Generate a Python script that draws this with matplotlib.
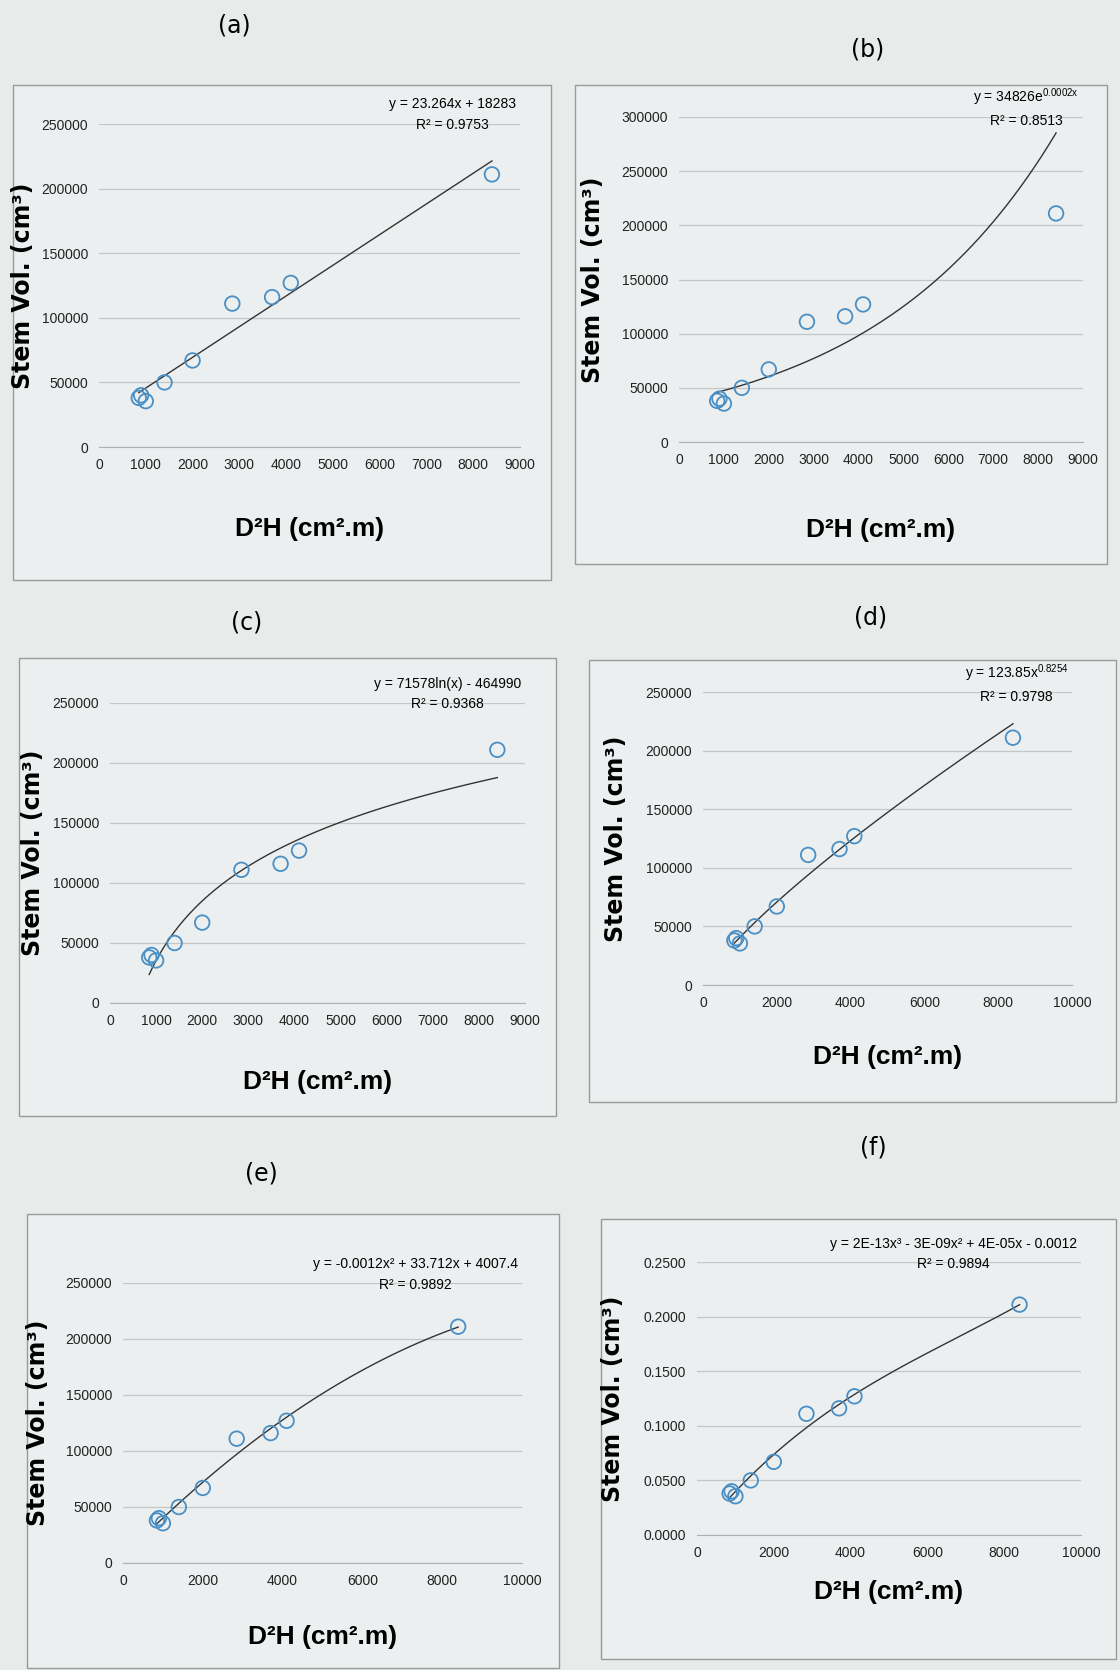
import numpy as np
import matplotlib
matplotlib.use("Agg")
import matplotlib.pyplot as plt
from matplotlib.patches import Rectangle
from matplotlib.ticker import FuncFormatter

# measured data (same sample set in every panel)
dh = [850, 900, 1000, 1400, 2000, 2850, 3700, 4100, 8400]
vol = [38000, 40000, 35500, 50000, 67000, 111000, 116000, 127000, 211000]
vol_m3 = [v / 1e6 for v in vol]

labels = ["(a)", "(b)", "(c)", "(d)", "(e)", "(f)"]
equations = [
    "y = 23.264x + 18283\nR² = 0.9753",
    "y = 34826e$^{0.0002x}$\nR² = 0.8513",
    "y = 71578ln(x) - 464990\nR² = 0.9368",
    "y = 123.85x$^{0.8254}$\nR² = 0.9798",
    "y = -0.0012x² + 33.712x + 4007.4\nR² = 0.9892",
    "y = 2E-13x³ - 3E-09x² + 4E-05x - 0.0012\nR² = 0.9894",
]
fit_kind = ["lin", "exp", "log", "pow", "quad", "cubic"]
xmax = [9000, 9000, 9000, 10000, 10000, 10000]
xstep = [1000, 1000, 1000, 2000, 2000, 2000]
ymax = [250000, 300000, 250000, 250000, 250000, 0.25]
ystep = [50000, 50000, 50000, 50000, 50000, 0.05]

W, H = 1120, 1670
bg = "#e7ebea"
plt.rcParams["font.family"] = ["Liberation Sans", "DejaVu Sans"]
plt.rcParams["mathtext.fontset"] = "custom"
plt.rcParams["mathtext.rm"] = "Liberation Sans"
plt.rcParams["mathtext.it"] = "Liberation Sans"

fig = plt.figure(figsize=(W / 100, H / 100), dpi=100, facecolor=bg)

# pixel layout: box (x0, y0, x1, y1), axes (x0, y0, x1, y1), label position
boxes = [(13, 85, 551, 580), (575, 85, 1107, 564), (19, 658, 556, 1116),
         (589, 660, 1116, 1102), (27, 1214, 559, 1668), (601, 1219, 1116, 1659)]
axes_px = [(99, 124, 520, 447), (679, 117, 1083, 442), (110, 703, 525, 1003),
           (703, 692, 1072, 985), (123, 1283, 522, 1563), (697, 1262, 1081, 1535)]
label_pos = [(234, 25), (868, 50), (247, 622), (871, 617), (261, 1173), (873, 1147)]
ylab_x = [35, 605, 45, 628, 50, 625]
xlab_y = [517, 518, 1070, 1045, 1625, 1580]


def fit_curve(kind, x, y):
    x = np.asarray(x, float)
    y = np.asarray(y, float)
    xs = np.linspace(x.min(), x.max(), 200)
    if kind == "lin":
        return xs, np.polyval(np.polyfit(x, y, 1), xs)
    if kind == "quad":
        return xs, np.polyval(np.polyfit(x, y, 2), xs)
    if kind == "cubic":
        return xs, np.polyval(np.polyfit(x, y, 3), xs)
    if kind == "exp":
        b, a = np.polyfit(x, np.log(y), 1)
        return xs, np.exp(a) * np.exp(b * xs)
    if kind == "log":
        b, a = np.polyfit(np.log(x), y, 1)
        return xs, a + b * np.log(xs)
    if kind == "pow":
        b, a = np.polyfit(np.log(x), np.log(y), 1)
        return xs, np.exp(a) * xs ** b


for i in range(6):
    bx0, by0, bx1, by1 = boxes[i]
    fig.patches.append(Rectangle((bx0 / W, 1 - by1 / H), (bx1 - bx0) / W, (by1 - by0) / H,
                                 transform=fig.transFigure, facecolor="#eceff0",
                                 edgecolor="#9a9a9a", linewidth=1.0, zorder=-10))
    lx, ly = label_pos[i]
    fig.text(lx / W, 1 - ly / H, labels[i], ha="center", va="center", fontsize=17,
             family=["DejaVu Sans"])

    x0, y0, x1, y1 = axes_px[i]
    ax = fig.add_axes([x0 / W, 1 - y1 / H, (x1 - x0) / W, (y1 - y0) / H])
    ax.set_facecolor("none")
    yv = vol_m3 if i == 5 else vol
    xs, ys = fit_curve(fit_kind[i], dh, yv)
    ax.plot(xs, ys, color="#333333", linewidth=1.0)
    ax.scatter(dh, yv, s=110, facecolors="none", edgecolors="#4a8fc4", linewidths=1.3, zorder=3)

    ax.set_xlim(0, xmax[i])
    ax.set_ylim(0, ymax[i])
    ax.set_xticks(np.arange(0, xmax[i] + 1, xstep[i]))
    ax.set_yticks(np.arange(0, ymax[i] + ystep[i] / 2, ystep[i]))
    if i == 5:
        ax.yaxis.set_major_formatter(FuncFormatter(lambda v, p: "%.4f" % v))
    ax.grid(axis="y", color="#c4c7c7", linewidth=0.9)
    ax.set_axisbelow(True)
    for s in ["top", "right", "left"]:
        ax.spines[s].set_visible(False)
    ax.spines["bottom"].set_color("#b0b0b0")
    ax.tick_params(length=0, labelsize=10, colors="#222222", pad=8)

    ax.set_ylabel("Stem Vol. (cm³)", fontsize=17, fontweight="bold",
                  family=["DejaVu Sans"])
    ax.yaxis.set_label_coords((ylab_x[i] - x0) / (x1 - x0), 0.5)
    ax.set_xlabel("D²H (cm².m)", fontsize=19, fontweight="bold")
    ax.xaxis.set_label_coords(0.5, (y1 - xlab_y[i]) / (y1 - y0))
    ax.text(0.99, 1.03, equations[i], transform=ax.transAxes, ha="right", va="center",
            fontsize=10, linespacing=1.6, multialignment="center")

fig.savefig("out.png", dpi=100, facecolor=bg)
